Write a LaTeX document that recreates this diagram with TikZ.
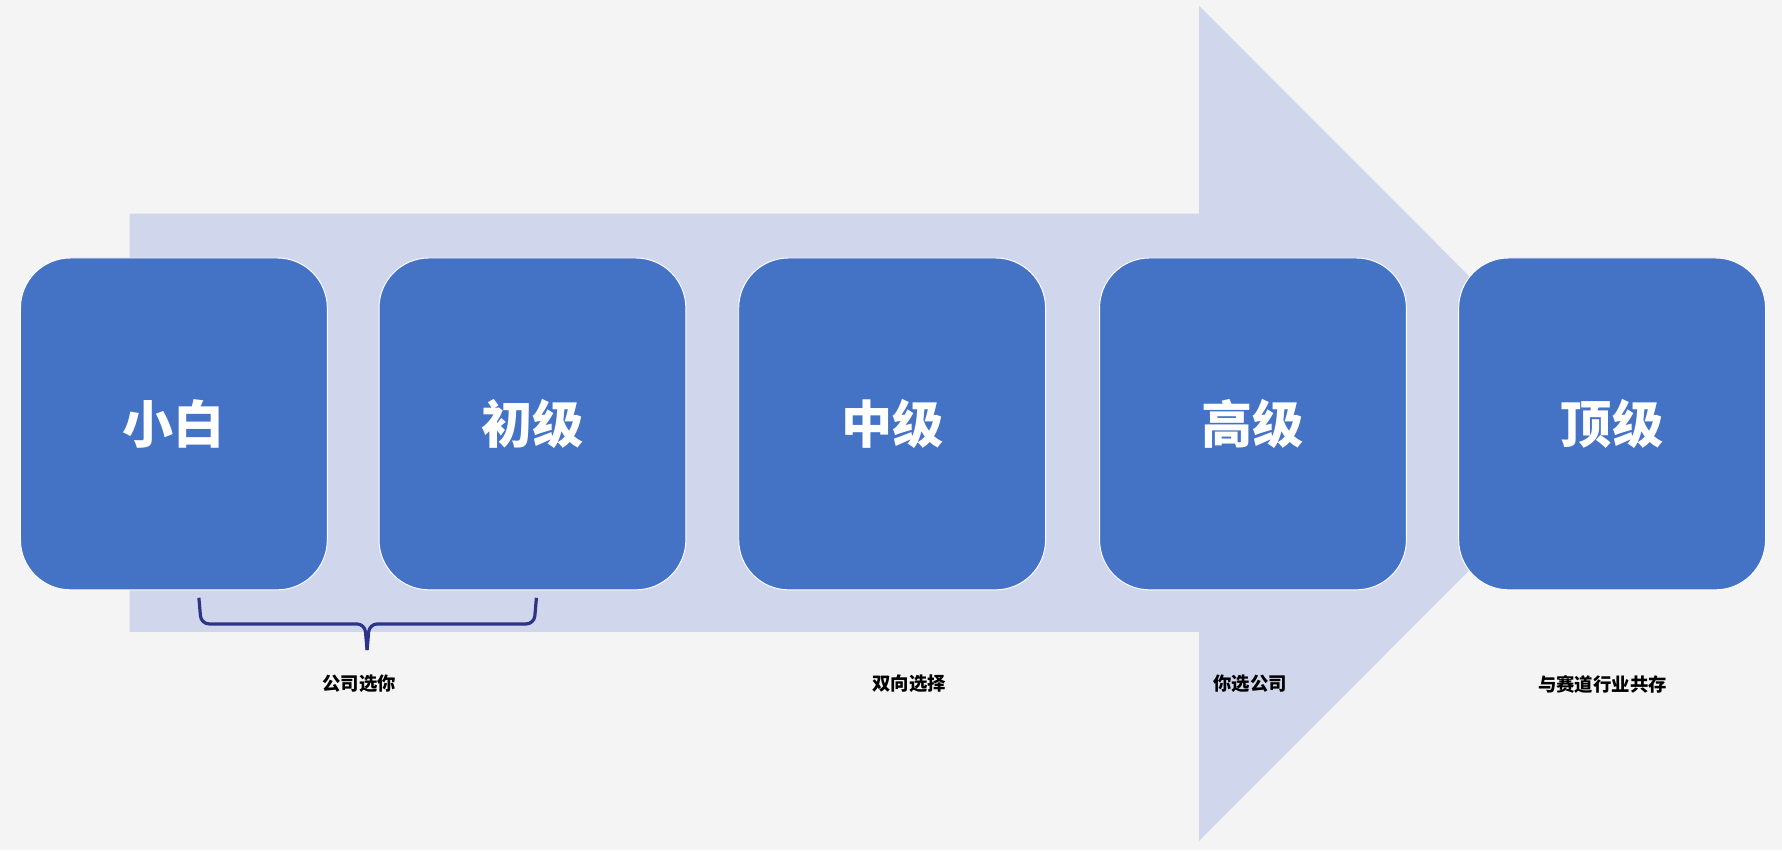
\documentclass[tikz,border=0pt]{standalone}
\usepackage{fontspec}
\newfontfamily\cjk{Noto Sans CJK SC}
\definecolor{bg}{HTML}{F4F4F4}
\definecolor{arr}{HTML}{D0D7EC}
\definecolor{boxc}{HTML}{4472C4}
\definecolor{brc}{HTML}{2B3486}
\begin{document}
\begin{tikzpicture}[x=0.05cm,y=-0.05cm,
  stage/.style={draw=white,line width=1.2pt,fill=boxc,rounded corners=2.2cm,minimum width=13.5cm,minimum height=14.6cm,text=white,font=\cjk\bfseries\fontsize{64}{70}\selectfont},
  lbl/.style={font=\cjk\bfseries\fontsize{23}{26}\selectfont,text=black}]
\fill[bg] (0,0) rectangle (1568,748);
\useasboundingbox (0,0) rectangle (1568,748);
\fill[arr] (114,188) -- (1055,188) -- (1055,5) -- (1422,372.5) -- (1055,740) -- (1055,556) -- (114,556) -- cycle;
\node[stage] (a) at (153,373) {小白};
\node[stage] (b) at (468.5,373) {初级};
\node[stage] (c) at (785,373) {中级};
\node[stage] (d) at (1102.5,373) {高级};
\node[stage] (e) at (1418.5,373) {顶级};
\draw[brc,line width=4pt,rounded corners=0.35cm] (175,526) -- (177,549) -- (321,549) -- (323,572);
\draw[brc,line width=4pt,rounded corners=0.35cm] (472,526) -- (470,549) -- (325,549) -- (323,572);
\node[lbl] (l1) at (316,602) {公司选你};
\node[lbl] (l2) at (800,602) {双向选择};
\node[lbl] (l3) at (1100,602) {你选公司};
\node[lbl] (l4) at (1410,602) {与赛道行业共存};
\end{tikzpicture}
\end{document}
